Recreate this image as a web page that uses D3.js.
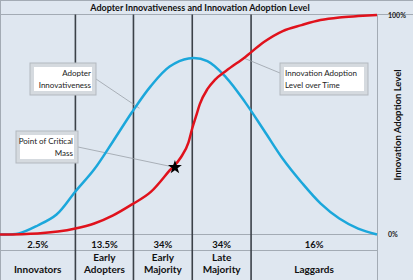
<!DOCTYPE html>
<html>
<head>
<meta charset="utf-8">
<script src="https://cdn.jsdelivr.net/npm/d3@7"></script>
<style>
body { margin: 0; background: #dfe7f0; }
svg { display: block; font-family: Lato, "Open Sans", sans-serif; }
</style>
</head>
<body>
<div class="chart"></div>
<script>
// categories of adopters and their share
var categories = [["Innovators"], ["Early", "Adopters"], ["Early", "Majority"], ["Late", "Majority"], ["Laggards"]];
var shares = ["2.5%", "13.5%", "34%", "34%", "16%"];
var boundaries = [0, 20, 35.4, 51, 66.6, 100];

// blue bell curve (adopter innovativeness), % of height
var timeSteps = [0, 5, 10, 15, 20, 25, 30, 35, 40, 45, 50, 55, 60, 65, 70, 75, 80, 85, 90, 95, 100];
var innovativeness = [0, 0.5, 4.1, 9.1, 19.6, 29.7, 42.5, 55.7, 67.6, 76.5, 80.2, 79.0, 71.5, 60.3, 47.5, 34.5, 23.7, 14.2, 7.3, 2.7, 0];

// red S curve (innovation adoption level over time)
var adoptionTime = [0, 10, 20, 25, 30, 35, 40, 45, 48, 50, 51, 52, 53, 55, 57, 60, 65, 70, 75, 80, 85, 90, 95, 100];
var adoptionLevel = [0, 0.5, 2.7, 5.0, 8.7, 13.7, 19.4, 29.2, 35.2, 42.0, 48.4, 53.9, 59.4, 66.2, 70.4, 74.6, 80.8, 87.7, 92.7, 95.4, 97.7, 98.9, 99.5, 100];

var criticalMass = [46.4, 30.6];
var levelTicks = [0, 100];

var svgWidth = 413;
var svgHeight = 280;

var plot = { left: 0, right: 377, top: 15, bottom: 234.5 };

var svg = d3.select(".chart")
  .append("svg")
  .attr("width", svgWidth)
  .attr("height", svgHeight);

svg.append("rect")
  .attr("width", svgWidth)
  .attr("height", svgHeight)
  .attr("fill", "#dfe7f0");

var xScale = d3.scaleLinear().domain([0, 100]).range([plot.left, plot.right]);
var yScale = d3.scaleLinear().domain([0, 100]).range([plot.bottom, plot.top]);

// frame lines
var grid = svg.append("g").attr("stroke", "#a3abb4").attr("stroke-width", 1);
grid.append("line").attr("x1", 0).attr("x2", svgWidth).attr("y1", 0.5).attr("y2", 0.5);
grid.append("line").attr("x1", 0).attr("x2", svgWidth).attr("y1", 14.5).attr("y2", 14.5);
grid.append("line").attr("x1", 0).attr("x2", plot.right).attr("y1", 234.5).attr("y2", 234.5);
grid.append("line").attr("x1", 0).attr("x2", plot.right).attr("y1", 250.5).attr("y2", 250.5);
grid.append("line").attr("x1", plot.right + 0.5).attr("x2", plot.right + 0.5).attr("y1", 14.5).attr("y2", svgHeight);
grid.append("line").attr("x1", 0.5).attr("x2", 0.5).attr("y1", 0).attr("y2", svgHeight);

// title
svg.append("text")
  .attr("x", 200)
  .attr("y", 10.5)
  .attr("text-anchor", "middle")
  .attr("font-size", 9)
  .attr("font-weight", "bold")
  .attr("fill", "#111")
  .text("Adopter Innovativeness and Innovation Adoption Level");

// category dividers
svg.selectAll(".divider")
  .data(boundaries.slice(1, 5))
  .enter()
  .append("line")
  .attr("x1", d => xScale(d))
  .attr("x2", d => xScale(d))
  .attr("y1", 14.5)
  .attr("y2", svgHeight)
  .attr("stroke", "#3b4148")
  .attr("stroke-width", 1.6);

// shares and names
var mids = d3.range(5).map(i => (boundaries[i] + boundaries[i + 1]) / 2);

svg.selectAll(".share")
  .data(shares)
  .enter()
  .append("text")
  .attr("x", (d, i) => xScale(mids[i]))
  .attr("y", 247.5)
  .attr("text-anchor", "middle")
  .attr("font-size", 9.5)
  .attr("font-weight", "bold")
  .attr("fill", "#111")
  .text(d => d);

svg.selectAll(".cat")
  .data(categories)
  .enter()
  .append("text")
  .attr("x", (d, i) => xScale(mids[i]))
  .attr("y", d => d.length > 1 ? 261 : 273)
  .attr("text-anchor", "middle")
  .attr("font-size", 10)
  .attr("font-weight", "bold")
  .attr("fill", "#111")
  .selectAll("tspan")
  .data(d => d)
  .enter()
  .append("tspan")
  .attr("x", function() { return d3.select(this.parentNode).attr("x"); })
  .attr("dy", (d, i) => i === 0 ? 0 : 12)
  .text(d => d);

// right axis
var rightAxis = d3.axisRight(yScale)
  .tickValues(levelTicks)
  .tickSize(0)
  .tickPadding(0)
  .tickFormat(d => d + "%");

var axisG = svg.append("g")
  .attr("transform", `translate(388, 0)`)
  .call(rightAxis);
axisG.select(".domain").remove();
axisG.selectAll("text")
  .attr("font-size", 7)
  .attr("font-weight", "bold")
  .attr("font-family", "Lato, sans-serif")
  .attr("fill", "#222");

svg.append("text")
  .attr("transform", "translate(401, 125) rotate(-90)")
  .attr("text-anchor", "middle")
  .attr("font-size", 9.5)
  .attr("font-weight", "bold")
  .attr("fill", "#111")
  .text("Innovation Adoption Level");

// curves
var blueLine = d3.line()
  .x((d, i) => xScale(timeSteps[i]))
  .y(d => yScale(d))
  .curve(d3.curveCatmullRom);

var redLine = d3.line()
  .x((d, i) => xScale(adoptionTime[i]))
  .y(d => yScale(d))
  .curve(d3.curveMonotoneX);

// callouts
function callout(x, y, w, h, lines, anchor, from, to) {
  svg.append("line")
    .attr("x1", from[0]).attr("y1", from[1])
    .attr("x2", to[0]).attr("y2", to[1])
    .attr("stroke", "#9aa1a8")
    .attr("stroke-width", 0.8);
  svg.append("rect")
    .attr("x", x).attr("y", y)
    .attr("width", w).attr("height", h)
    .attr("fill", "#d5dadf")
    .attr("stroke", "#b3b9bf");
  svg.append("rect")
    .attr("x", x + 4).attr("y", y + 4)
    .attr("width", w - 8).attr("height", h - 8)
    .attr("fill", "#fff");
  var tx = anchor === "end" ? x + w - 5 : x + 5;
  svg.append("text")
    .attr("text-anchor", anchor)
    .attr("font-size", 8)
    .attr("fill", "#222")
    .selectAll("tspan")
    .data(lines)
    .enter()
    .append("tspan")
    .attr("x", tx)
    .attr("y", (d, i) => y + 13 + i * 11.5)
    .text(d => d);
}

callout(30, 63, 66, 32, ["Adopter", "Innovativeness"], "end",
  [96, 79], [xScale(37), yScale(57.5)]);
callout(16, 131, 62, 32, ["Point of Critical", "Mass"], "end",
  [78, 147], [xScale(criticalMass[0]), yScale(criticalMass[1])]);
callout(280, 63, 88, 32, ["Innovation Adoption", "Level over Time"], "start",
  [280, 73], [xScale(64.5), yScale(80.5)]);

svg.append("path")
  .datum(innovativeness)
  .attr("d", blueLine)
  .attr("fill", "none")
  .attr("stroke", "#1ba7db")
  .attr("stroke-width", 2.5);

svg.append("path")
  .datum(adoptionLevel)
  .attr("d", redLine)
  .attr("fill", "none")
  .attr("stroke", "#e0121c")
  .attr("stroke-width", 2.5);

svg.append("path")
  .attr("d", d3.symbol(d3.symbolStar).size(60))
  .attr("transform", `translate(${xScale(criticalMass[0])}, ${yScale(criticalMass[1])})`)
  .attr("fill", "#000");
</script>
</body>
</html>
